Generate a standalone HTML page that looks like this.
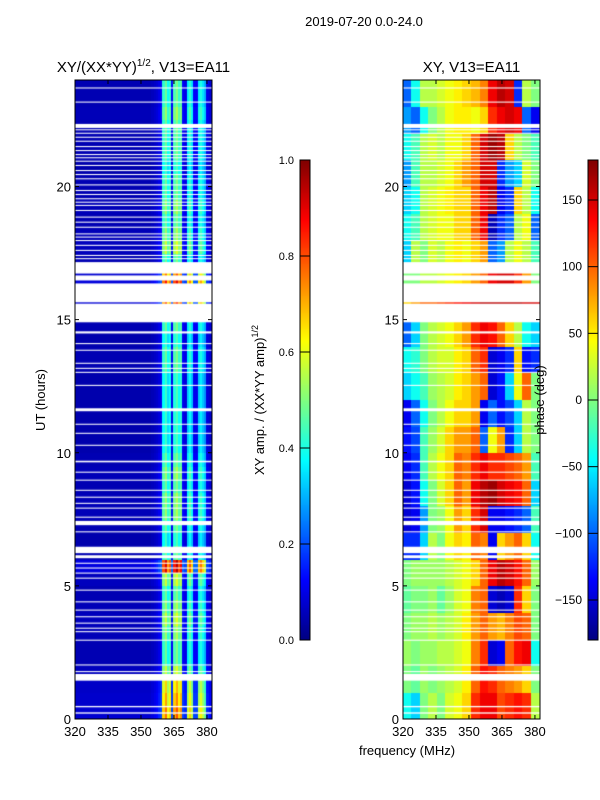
<!DOCTYPE html>
<html><head><meta charset="utf-8">
<style>
body{margin:0;background:#fff;}
#wrap{position:relative;width:600px;height:800px;overflow:hidden;background:#fff;font-family:"Liberation Sans",sans-serif;}
canvas{position:absolute;}
svg{position:absolute;left:0;top:0;}
</style></head>
<body>
<div id="wrap">
<canvas id="cl" style="left:75px;top:80px" width="137" height="639"></canvas>
<canvas id="cr" style="left:403px;top:80px" width="137" height="639"></canvas>
<canvas id="cb1" style="left:300px;top:160px" width="10" height="480"></canvas>
<canvas id="cb2" style="left:588px;top:160px" width="10" height="480"></canvas>
<svg id="ov" width="600" height="800"></svg>
</div>
<script>
// ---- data ----
const freqStart = 320, freqEnd = 382.3, hourEnd = 24;
const xTickLabels = [320, 335, 350, 365, 380];
const yTickLabels = [0, 5, 10, 15, 20];
const ampTicks = [0.0, 0.2, 0.4, 0.6, 0.8, 1.0];
const phaseTicks = [-150, -100, -50, 0, 50, 100, 150];
// amplitude spectral profile, 1 MHz channels from 320
const ampProfile = [0.05,0.05,0.05,0.05,0.05,0.05,0.05,0.05,0.05,0.05,
 0.05,0.05,0.05,0.05,0.05,0.05,0.05,0.05,0.05,0.05,
 0.05,0.05,0.05,0.05,0.05,0.05,0.05,0.05,0.05,0.05,
 0.05,0.05,0.05,0.05,0.05,0.06,0.07,0.08,0.1,0.12,
 0.42,0.48,0.38,0.42,0.12,0.45,0.5,0.42,0.46,0.12,
 0.1,0.36,0.42,0.35,0.12,0.12,0.36,0.4,0.35,0.3,0.1,0.08,0.08];
// amplitude time gain, per half hour from 0
const ampRowGain = [1.6,1.5,1.4,1.2,1.0,1.0,1.1,1.2,1.1,1.0,1.2,1.9,1.0,0.9,1.0,1.1,
 1.1,1.0,1.1,1.0,0.9,0.9,0.9,0.9,0.9,0.9,1.0,1.0,0.9,1.0,1.7,1.7,
 1.8,1.6,1.0,1.2,1.1,1.0,1.1,1.0,1.0,0.9,1.0,1.0,1.0,1.1,1.0,1.0];
// phase grid: 24 hourly rows x 16 freq bins
const phaseGrid = [
[-40,-60,0,20,0,30,40,60,120,140,140,110,120,130,120,20],
[0,-10,10,0,10,20,30,50,100,130,120,100,90,80,60,0],
[10,0,10,10,20,20,30,40,90,120,-150,-140,100,130,140,-40],
[0,10,10,20,10,20,30,50,80,100,80,70,90,110,100,0],
[-10,0,0,10,-10,10,30,40,90,100,-150,-160,-150,120,60,0],
[0,10,10,10,10,20,30,40,60,100,140,160,150,130,100,10],
[-120,-120,-60,20,0,40,60,50,100,90,-140,60,80,100,60,-40],
[-150,-140,-80,0,10,40,80,60,120,150,-140,-140,-130,-120,-100,-20],
[-150,-130,-40,0,30,60,100,80,140,160,170,150,140,130,100,-60],
[-140,-120,-20,20,40,60,100,90,120,140,120,120,110,100,80,-20],
[-130,-110,-20,10,30,60,80,80,100,-100,40,80,-120,-60,20,0],
[-140,-100,-40,0,20,40,60,60,80,-140,-100,-130,-110,-60,20,0],
[-60,-40,-20,10,20,30,50,60,80,100,-150,-130,-60,40,100,0],
[-40,-30,0,20,30,30,50,60,100,120,-150,-140,-120,60,-130,-120],
[-100,-60,0,20,30,40,60,80,120,140,130,100,60,20,-40,-60],
[60,80,100,100,110,120,130,140,150,160,160,160,160,160,150,150],
[0,0,20,20,30,40,50,60,80,100,140,150,150,120,80,0],
[-60,20,0,30,20,40,50,40,60,80,-100,-80,20,40,20,-20],
[-40,-20,20,30,40,40,60,60,100,140,-160,-120,-100,20,40,-100],
[-60,-40,20,30,40,50,60,60,100,140,160,-140,-120,60,20,-40],
[-80,-20,20,20,30,40,60,80,100,150,150,-120,-80,-60,30,0],
[-40,-20,20,30,20,40,40,60,100,150,170,160,60,20,0,-20],
[-80,-100,-40,0,20,40,50,50,40,60,120,140,150,140,-100,-140],
[-100,-40,20,20,30,40,50,60,70,90,140,160,150,-120,20,0]];
// flagged (blank) time intervals in hours [start, end]
const flagged = [[0.2,0.25],[0.44,0.49],[1.44,1.69],[1.76,1.8],[2.01,2.05],[2.94,2.98],
[3.26,3.3],[3.39,3.43],[3.58,3.62],[3.82,3.86],[4.07,4.11],[4.38,4.42],[4.82,4.86],
[5.27,5.31],[5.46,5.5],[5.65,5.69],[5.83,5.87],[6.04,6.15],[6.23,6.47],[7.01,7.05],
[7.28,7.44],[7.56,7.6],[7.9,7.94],[8.08,8.12],[8.31,8.35],[8.57,8.61],[8.95,8.99],
[9.25,9.29],[9.64,9.7],[10.26,10.3],[10.71,10.75],[11.05,11.09],[11.56,11.67],
[12.51,12.55],[13.0,13.04],[13.15,13.19],[13.34,13.38],[13.83,13.87],[14.08,14.12],
[14.48,14.56],[14.9,15.6],[15.65,16.36],[16.47,16.66],[16.73,17.16],
[17.27,17.31],[17.39,17.43],[17.58,17.62],[17.77,17.81],[17.95,17.99],[18.08,18.12],
[18.2,18.24],[18.45,18.49],[18.64,18.68],[18.83,18.87],[19.08,19.12],[19.27,19.31],
[19.39,19.43],[19.52,19.56],[19.68,19.72],[19.83,19.87],[20.04,20.08],[20.27,20.31],
[20.43,20.47],[20.58,20.62],[20.77,20.81],[20.93,20.97],[21.06,21.1],[21.18,21.22],
[21.33,21.37],[21.48,21.52],[21.68,21.72],[21.83,21.87],[21.98,22.02],[22.11,22.15],
[22.2,22.35],[23.15,23.19],[23.68,23.72]];

// ---- helpers ----
function jet(t){t=Math.max(0,Math.min(1,t));
 const c=v=>Math.round(255*Math.max(0,Math.min(1,v)));
 return 'rgb('+c(1.5-Math.abs(4*t-3))+','+c(1.5-Math.abs(4*t-2))+','+c(1.5-Math.abs(4*t-1))+')';}
const PW=137, PH=639;
function xs(f){return (f-freqStart)/(freqEnd-freqStart)*PW;}
function ys(h){return PH-(h/hourEnd)*PH;}

// left amplitude panel
const cl=document.getElementById('cl').getContext('2d');
for(let r=0;r<ampRowGain.length;r++){
 for(let c=0;c<ampProfile.length;c++){
  const v=Math.min(1,ampProfile[c]*ampRowGain[r]);
  cl.fillStyle=jet(v);
  const x0=xs(freqStart+c), x1=xs(freqStart+c+1);
  const y0=ys((r+1)*0.5), y1=ys(r*0.5);
  cl.fillRect(Math.floor(x0),Math.floor(y0),Math.ceil(x1)-Math.floor(x0),Math.ceil(y1)-Math.floor(y0));
 }}
// right phase panel
const cr=document.getElementById('cr').getContext('2d');
const nb=phaseGrid[0].length, bw=(freqEnd-freqStart)/nb;
for(let r=0;r<phaseGrid.length;r++){
 for(let c=0;c<nb;c++){
  cr.fillStyle=jet((phaseGrid[r][c]+180)/360);
  const x0=xs(freqStart+c*bw), x1=xs(freqStart+(c+1)*bw);
  const y0=ys(r+1), y1=ys(r);
  cr.fillRect(Math.floor(x0),Math.floor(y0),Math.ceil(x1)-Math.floor(x0),Math.ceil(y1)-Math.floor(y0));
 }}
// flagged rows
[cl,cr].forEach(ctx=>{ctx.fillStyle='#fff';
 flagged.forEach(f=>{const y0=ys(f[1]),y1=ys(f[0]);ctx.fillRect(0,y0,PW,Math.max(1,y1-y0));});});
// colorbars
['cb1','cb2'].forEach(id=>{const ctx=document.getElementById(id).getContext('2d');
 for(let i=0;i<480;i++){ctx.fillStyle=jet(1-i/480);ctx.fillRect(0,i,10,1);}});

// ---- overlay axes ----
const ov=document.getElementById('ov');
const NS='http://www.w3.org/2000/svg';
function el(tag,attrs,txt){const e=document.createElementNS(NS,tag);for(const k in attrs)e.setAttribute(k,attrs[k]);if(txt!==undefined)e.textContent=txt;ov.appendChild(e);return e;}
function panel(px,title,name){
 const py=80;
 const fr=el('rect',{x:px,y:py,width:PW,height:PH,fill:'none',stroke:'#000','stroke-width':1});
 
 
 xTickLabels.forEach(v=>{const x=px+xs(v);
  el('line',{x1:x,x2:x,y1:py+PH,y2:py+PH-4,stroke:'#000'});
  el('line',{x1:x,x2:x,y1:py,y2:py+4,stroke:'#000'});
  const t=el('text',{x:x,y:py+PH+17,'text-anchor':'middle','font-size':13},v);
  
  });
 yTickLabels.forEach(v=>{const y=py+ys(v);
  el('line',{x1:px,x2:px+4,y1:y,y2:y,stroke:'#000'});
  el('line',{x1:px+PW,x2:px+PW-4,y1:y,y2:y,stroke:'#000'});
  const t=el('text',{x:px-4,y:y+5,'text-anchor':'end','font-size':13},v);
  
  });
 const tt=el('text',{x:px+PW/2,y:72,'text-anchor':'middle','font-size':15});
 tt.innerHTML=title;
 
 
}
panel(75,'XY/(XX*YY)<tspan dy="-6" font-size="10">1/2</tspan><tspan dy="6">, V13=EA11</tspan>','amp-panel');
panel(403,'XY, V13=EA11','phase-panel');
function cbar(cx,ticks,lo,hi,name,fs){
 const f=el('rect',{x:cx,y:160,width:10,height:480,fill:'none',stroke:'#000'});
 
 
 ticks.forEach(v=>{const y=640-(v-lo)/(hi-lo)*480;
  el('line',{x1:cx,x2:cx+10,y1:y,y2:y,stroke:'#000'});
  const t=el('text',{x:cx-6,y:y+4,'text-anchor':'end','font-size':fs},(v<0?'\u2212'+(-v):(lo===0?v.toFixed(1):v)));
  
  });
}
cbar(300,ampTicks,0,1,'amp-colorbar',11);
cbar(588,phaseTicks,-180,180,'phase-colorbar',12);
const sup=el('text',{x:364,y:26,'text-anchor':'middle','font-size':13},'2019-07-20 0.0-24.0');


const xl=el('text',{x:407,y:755,'text-anchor':'middle','font-size':13},'frequency (MHz)');


const yl=el('text',{x:0,y:0,'text-anchor':'middle','font-size':13,transform:'translate(45,400) rotate(-90)'},'UT (hours)');


const al=el('text',{x:0,y:0,'text-anchor':'middle','font-size':13,transform:'translate(264,400) rotate(-90)'});
al.innerHTML='XY amp. / (XX*YY amp)<tspan dy="-6" font-size="9">1/2</tspan>';


const pl=el('text',{x:0,y:0,'text-anchor':'middle','font-size':13,transform:'translate(544,400) rotate(-90)'},'phase (deg)');


</script>
</body></html>
